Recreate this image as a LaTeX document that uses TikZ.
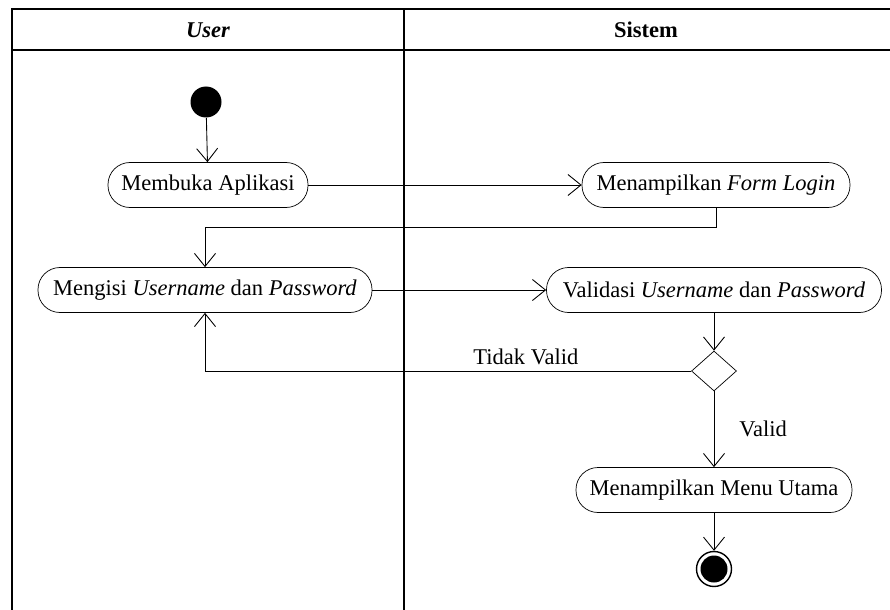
\documentclass[tikz,border=0pt]{standalone}
\usepackage{fontspec}
\setmainfont{Liberation Serif}
\usetikzlibrary{arrows.meta,shapes.geometric}

\begin{document}
\begin{tikzpicture}[x=0.2mm, y=-0.2mm, >={Straight Barb[length=2.6mm,width=4.2mm]},
    font=\fontsize{12.8pt}{15pt}\selectfont,
    activity/.style={draw, rounded corners=4.4mm, minimum height=9mm, inner sep=0pt},
    flow/.style={->, line width=0.5pt}]
    \useasboundingbox (0,0) rectangle (890,610);

    % Swimlanes
    \draw[line width=1pt] (890,9) -- (12,9) -- (12,610);
    \draw[line width=1pt] (12,50) -- (890,50);
    \draw[line width=1.2pt] (404,9) -- (404,610);
    \node[font=\fontsize{12.8pt}{15pt}\selectfont\bfseries\itshape] (laneuser) at (208,30) {User};
    \node[font=\fontsize{12.8pt}{15pt}\selectfont\bfseries] (lanesistem) at (646,30) {Sistem};

    % Start and end
    \node[circle, fill, minimum size=6.2mm, inner sep=0pt] (mulai) at (206,102) {};
    \node[circle, draw, line width=0.8pt, minimum size=7mm, inner sep=0pt] (selesai) at (714,569) {};
    \node[circle, fill, minimum size=5.4mm, inner sep=0pt] at (selesai) {};

    % Activities
    \node[activity, minimum width=40mm] (buka) at (208,185) {Membuka Aplikasi};
    \node[activity, minimum width=53.6mm] (form) at (716,185) {Menampilkan \textit{Form Login}};
    \node[activity, minimum width=66.8mm] (isi) at (205,290) {Mengisi \textit{Username} dan \textit{Password}};
    \node[activity, minimum width=67mm] (validasi) at (714,290) {Validasi \textit{Username} dan \textit{Password}};
    \node[diamond, draw, minimum width=9mm, minimum height=8mm, inner sep=0pt] (cek) at (714,371) {};
    \node[activity, minimum width=55.2mm] (menu) at (714,490) {Menampilkan Menu Utama};

    % Flows
    \draw[flow] (mulai) -- (buka);
    \draw[flow] (buka) -- (form);
    \draw[flow] (form.south) -- ++(0,20) -| (isi.north);
    \draw[flow] (isi) -- (validasi);
    \draw[flow] (validasi) -- (cek);
    \draw[flow] (cek.west) -| node[pos=0.17, above] {Tidak Valid} (isi.south);
    \draw[flow] (cek) -- node[right=3.8mm] {Valid} (menu);
    \draw[flow] (menu) -- (selesai);
\end{tikzpicture}
\end{document}
